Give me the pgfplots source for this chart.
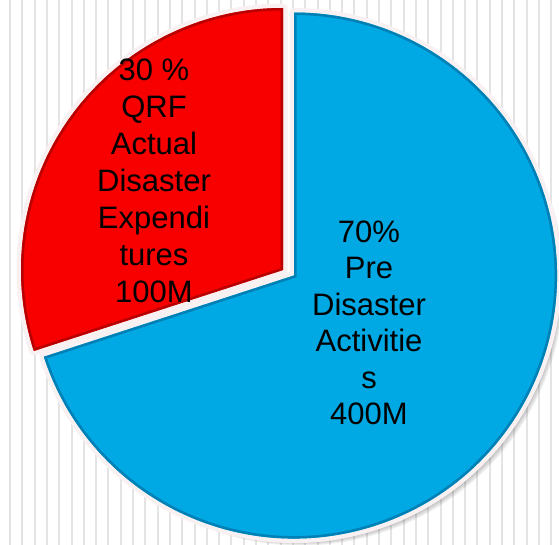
\documentclass[border=0pt]{standalone}
\usepackage{pgfplots}
\pgfplotsset{compat=1.18}
\usepackage{pgfplotstable}
\usepackage{fontspec}
\setmainfont{Liberation Sans}
\definecolor{pieblue}{RGB}{0,169,228}
\definecolor{piered}{RGB}{248,0,0}
\definecolor{edgeblue}{RGB}{0,128,180}
\definecolor{edgered}{RGB}{185,0,0}
\definecolor{rim}{RGB}{249,241,241}
\definecolor{stripe}{RGB}{228,228,228}

\pgfplotstableread{
label value
QRF 30
Pre 70
}\piedata

\newcommand\sector[5]{(axis cs:{#1},{#2}) -- ++(#3:#5bp) arc[start angle=#3, end angle=#4, radius=#5bp] -- cycle}

\begin{document}
\begin{tikzpicture}
\pgfplotstablegetelem{0}{value}\of\piedata \let\vA\pgfplotsretval
\pgfplotstablegetelem{1}{value}\of\piedata \let\vB\pgfplotsretval
\pgfmathsetmacro{\aEnd}{90+3.6*\vA}
\pgfmathsetmacro{\bEnd}{\aEnd+3.6*\vB}
\useasboundingbox (0,0) rectangle (559bp,545bp);
\begin{axis}[x=1bp,y=1bp,xmin=0,xmax=559,ymin=0,ymax=545,hide axis,
  at={(0,0)},anchor=origin,clip=false]
\fill[white] (axis cs:0,0) rectangle (axis cs:559,545);
\pgfplotsinvokeforeach{0,...,44}{
  \draw[stripe, line width=2bp] (axis cs:{10+12.3*#1},0) -- (axis cs:{10+12.3*#1},545);
}
% shadow
\pgfplotsinvokeforeach{1,...,7}{
  \fill[black,opacity=0.06] \sector{294+#1}{269.5-#1}{\aEnd}{\bEnd}{263};
  \fill[black,opacity=0.03] \sector{283+#1*0.5}{275-#1*0.5}{90}{\aEnd}{262};
}
% rims
\draw[rim, line width=9bp, line join=round] \sector{294}{269.5}{\aEnd}{\bEnd}{263};
\draw[rim, line width=9bp, line join=round] \sector{283}{275}{90}{\aEnd}{262};
% fills
\fill[pieblue] \sector{294}{269.5}{\aEnd}{\bEnd}{263};
\fill[piered] \sector{283}{275}{90}{\aEnd}{262};
% inner edges
\begin{scope}
\clip \sector{294}{269.5}{\aEnd}{\bEnd}{263};
\draw[edgeblue, line width=5bp] \sector{294}{269.5}{\aEnd}{\bEnd}{263};
\end{scope}
\begin{scope}
\clip \sector{283}{275}{90}{\aEnd}{262};
\draw[edgered, line width=5bp] \sector{283}{275}{90}{\aEnd}{262};
\end{scope}
% labels
\begin{scope}[every node/.style={anchor=base, inner sep=0pt, font=\fontsize{31bp}{36bp}\selectfont}]
\node at (axis cs:154,464) {30 \%};
\node at (axis cs:154,427.2) {QRF};
\node at (axis cs:154,390.4) {Actual};
\node at (axis cs:154,353.6) {Disaster};
\node at (axis cs:154,316.8) {Expendi};
\node at (axis cs:154,280) {tures};
\node at (axis cs:154,243) {100M};
\node at (axis cs:369,303) {70\%};
\node at (axis cs:369,266.5) {Pre};
\node at (axis cs:369,230) {Disaster};
\node at (axis cs:369,193.5) {Activitie};
\node at (axis cs:369,157) {s};
\node at (axis cs:369,120.5) {400M};
\end{scope}
\end{axis}
\end{tikzpicture}
\end{document}
